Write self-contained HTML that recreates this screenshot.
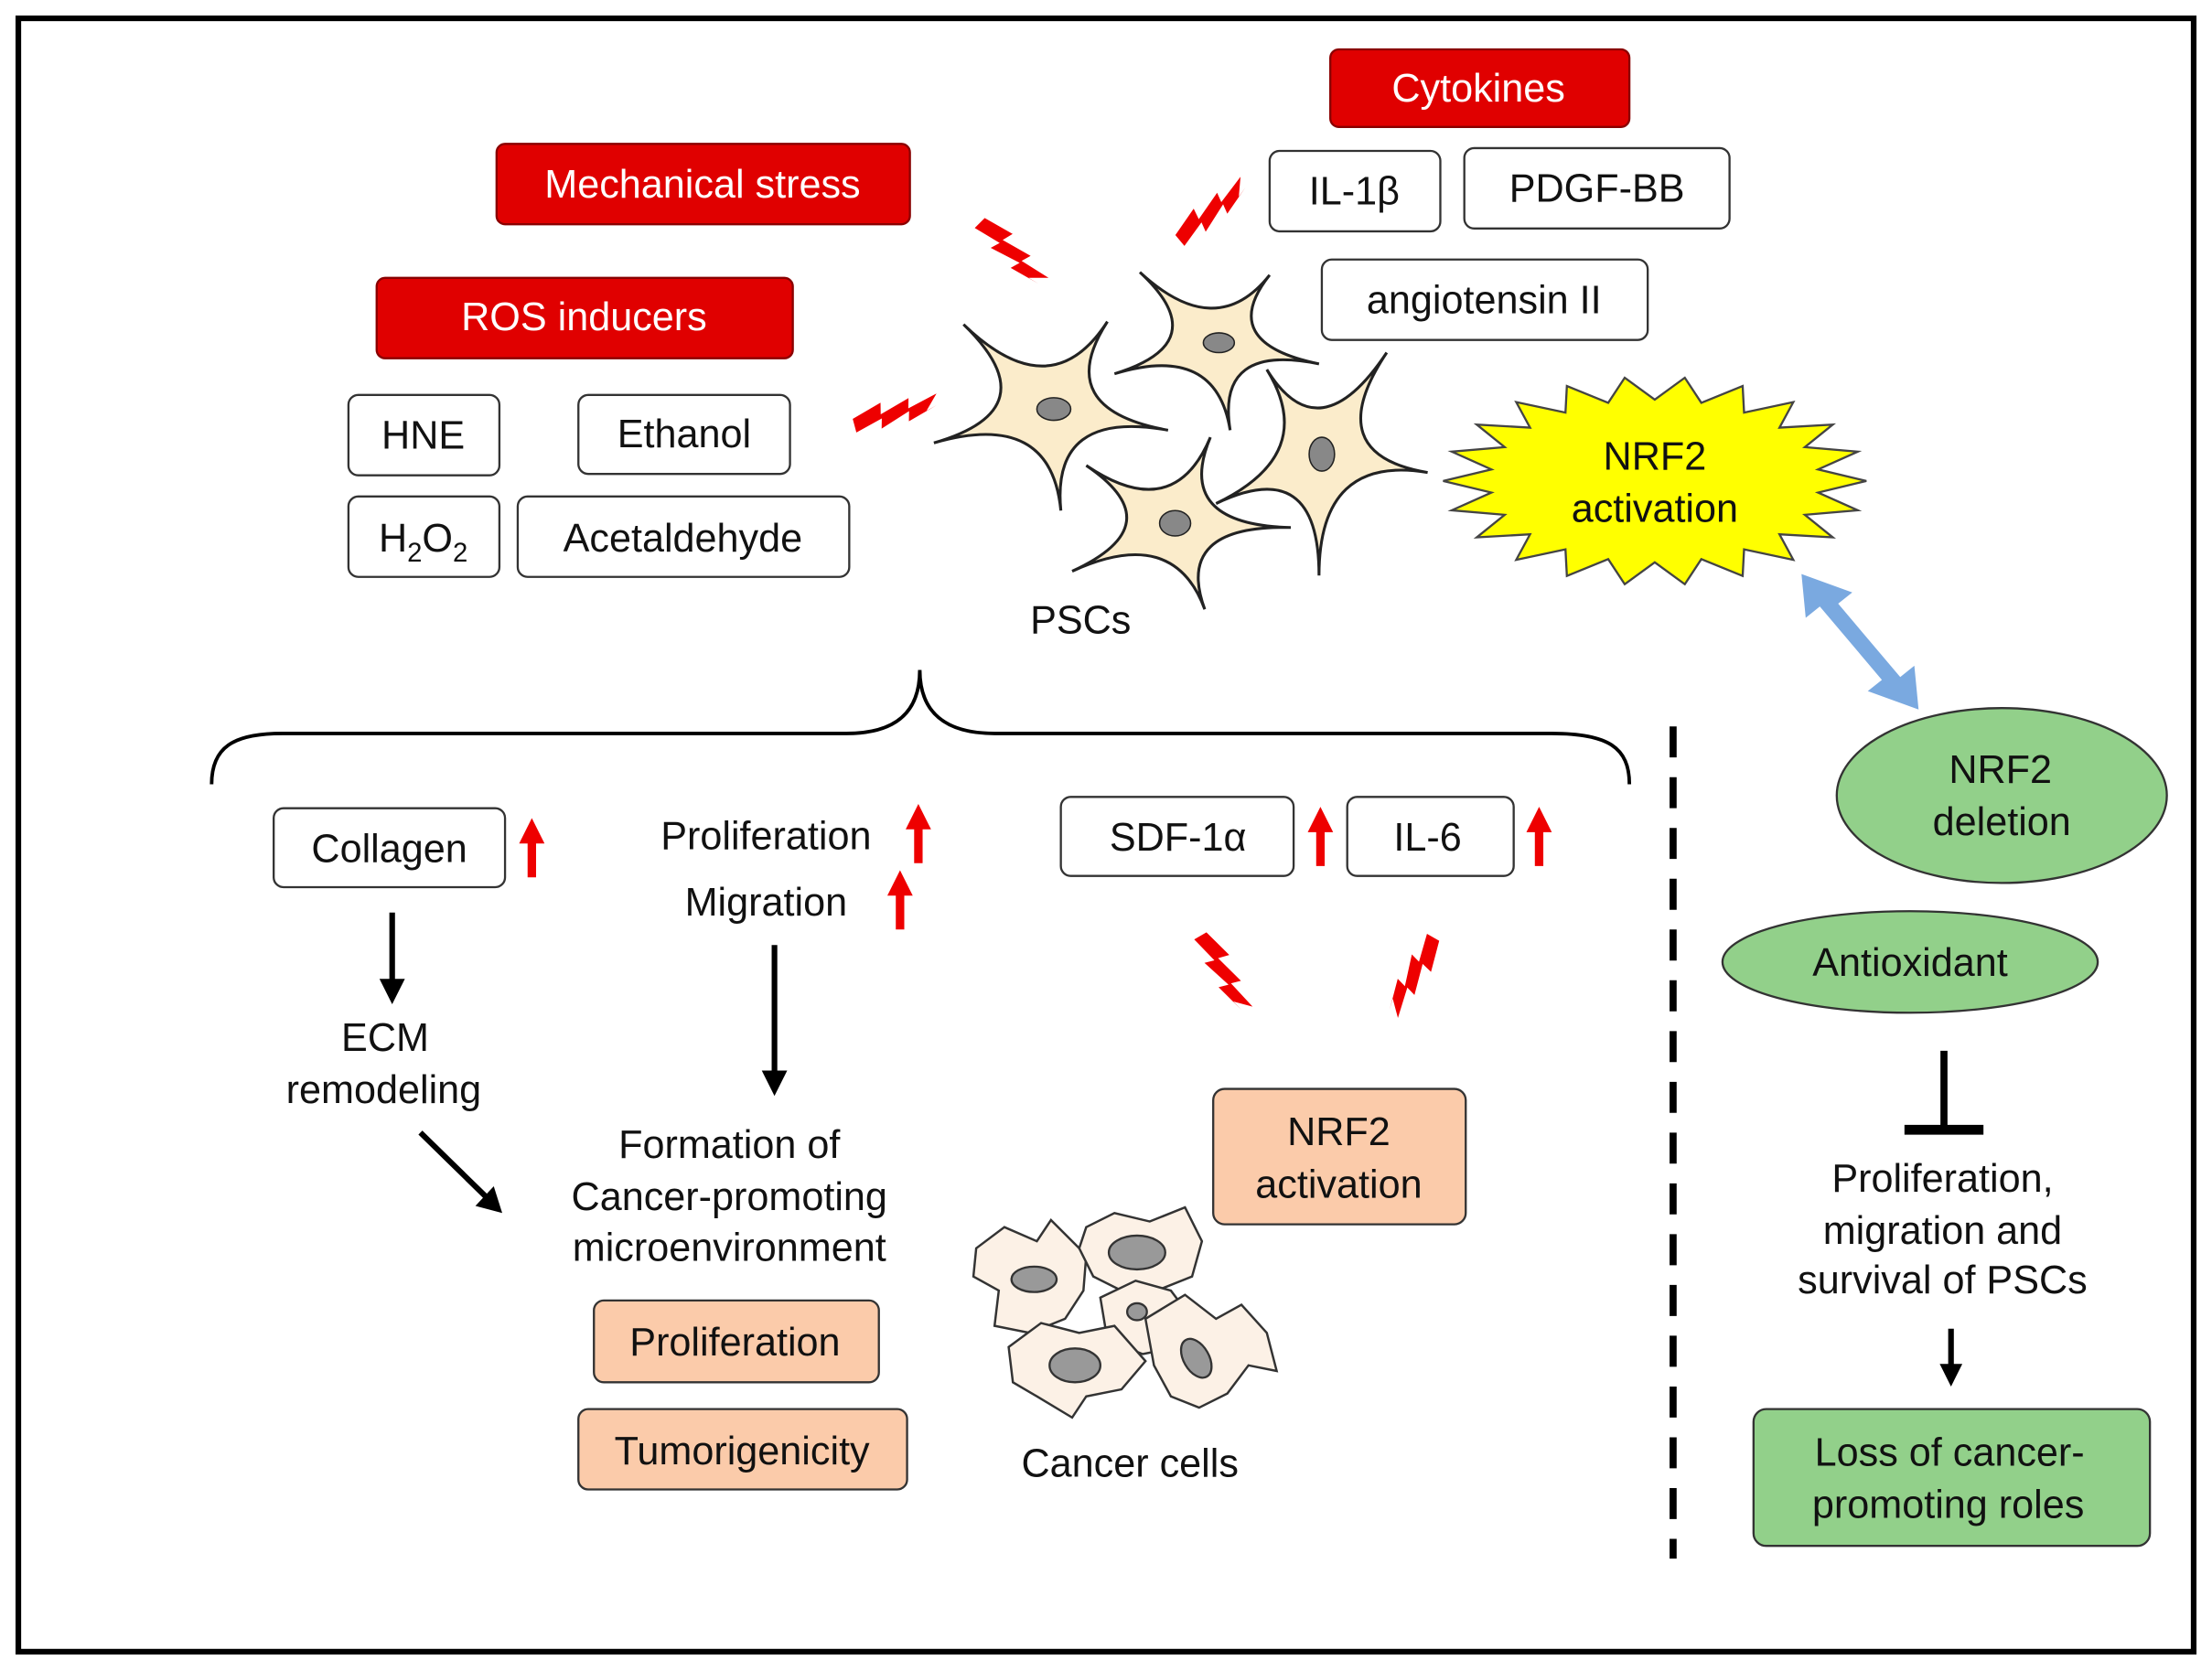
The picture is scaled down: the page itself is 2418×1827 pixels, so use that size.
<!DOCTYPE html>
<html><head><meta charset="utf-8"><style>
html,body{margin:0;padding:0;background:#fff}
svg{display:block}
text{font-family:"Liberation Sans",Arial,sans-serif;font-size:28px;fill:#111}
</style></head><body>
<svg width="2418" height="1827" viewBox="0 0 1568 1184.7" preserveAspectRatio="none" xmlns="http://www.w3.org/2000/svg">
<defs>
<path id="bolt" d="M-30,-6 L-8,-12 L-10,-4 L12,-10 L10,-3 L32,-8 L22,2 L30,0 L8,6 L10,-1 L-12,6 L-10,-1 L-30,4z" fill="#ee0000"/>
</defs>
<rect x="13" y="13" width="1542" height="1158" fill="#fff" stroke="#000" stroke-width="4"/>

<g stroke="#8a0000" stroke-width="1.5" fill="#e00000">
<rect x="943" y="35" width="212" height="55" rx="6"/>
<rect x="352" y="102" width="293" height="57" rx="6"/>
<rect x="267" y="197" width="295" height="57" rx="6"/>
</g>
<g text-anchor="middle">
<text x="1048" y="72" style="fill:#fff">Cytokines</text>
<text x="498" y="140" style="fill:#fff">Mechanical stress</text>
<text x="414" y="234" style="fill:#fff">ROS inducers</text>
</g>
<g fill="#fff" stroke="#333" stroke-width="1.5">
<rect x="900" y="107" width="121" height="57" rx="7"/>
<rect x="1038" y="105" width="188" height="57" rx="7"/>
<rect x="937" y="184" width="231" height="57" rx="7"/>
<rect x="247" y="280" width="107" height="57" rx="7"/>
<rect x="410" y="280" width="150" height="56" rx="7"/>
<rect x="247" y="352" width="107" height="57" rx="7"/>
<rect x="367" y="352" width="235" height="57" rx="7"/>
<rect x="194" y="573" width="164" height="56" rx="7"/>
<rect x="752" y="565" width="165" height="56" rx="7"/>
<rect x="955" y="565" width="118" height="56" rx="7"/>
</g>
<g text-anchor="middle">
<text x="960" y="145">IL-1β</text>
<text x="1132" y="143">PDGF-BB</text>
<text x="1052" y="222">angiotensin II</text>
<text x="300" y="318">HNE</text>
<text x="485" y="317">Ethanol</text>
<text x="300" y="391">H<tspan font-size="19" dy="7">2</tspan><tspan dy="-7">O</tspan><tspan font-size="19" dy="7">2</tspan></text>
<text x="484" y="391">Acetaldehyde</text>
<text x="276" y="611">Collagen</text>
<text x="835" y="603">SDF-1α</text>
<text x="1012" y="603">IL-6</text>
<text x="766" y="449">PSCs</text>
<text x="543" y="602">Proliferation</text>
<text x="543" y="649">Migration</text>
<text x="273" y="745">ECM</text>
<text x="272" y="782">remodeling</text>
<text x="517" y="821">Formation of</text>
<text x="517" y="858">Cancer-promoting</text>
<text x="517" y="894">microenvironment</text>
<text x="801" y="1047">Cancer cells</text>
<text x="1377" y="845">Proliferation,</text>
<text x="1377" y="882">migration and</text>
<text x="1377" y="917">survival of PSCs</text>
</g>
<g fill="#fbcbaa" stroke="#333" stroke-width="1.5">
<rect x="421" y="922" width="202" height="58" rx="7"/>
<rect x="410" y="999" width="233" height="57" rx="7"/>
<rect x="860" y="772" width="179" height="96" rx="8"/>
</g>
<rect x="1243" y="999" width="281" height="97" rx="9" fill="#92d08a" stroke="#333" stroke-width="1.5"/>
<g text-anchor="middle">
<text x="521" y="961">Proliferation</text>
<text x="526" y="1038">Tumorigenicity</text>
<text x="949" y="812">NRF2</text>
<text x="949" y="849">activation</text>
<text x="1382" y="1039">Loss of cancer-</text>
<text x="1381" y="1076">promoting roles</text>
</g>
<ellipse cx="1419" cy="564" rx="117" ry="62" fill="#92d08a" stroke="#333" stroke-width="1.5"/>
<ellipse cx="1354" cy="682" rx="133" ry="36" fill="#92d08a" stroke="#333" stroke-width="1.5"/>
<g text-anchor="middle"><text x="1418" y="555">NRF2</text><text x="1419" y="592">deletion</text><text x="1354" y="692">Antioxidant</text></g>

<polygon fill="#ffff00" stroke="#444" stroke-width="1.5" points="1323,341 1288.8,349.2 1316.9,361.8 1279.4,365 1299.2,381 1261.4,378.8 1271.2,396.9 1236.3,389.5 1235.3,408.3 1206,396.4 1194.3,414.2 1173,398.7 1151.7,414.2 1140,396.4 1110.7,408.3 1109.7,389.5 1074.8,396.9 1084.6,378.8 1046.8,381 1066.6,365 1029.1,361.8 1057.2,349.2 1023,341 1057.2,332.8 1029.1,320.2 1066.6,317 1046.8,301 1084.6,303.2 1074.8,285.1 1109.7,292.5 1110.7,273.7 1140,285.6 1151.7,267.8 1173,283.3 1194.3,267.8 1206,285.6 1235.3,273.7 1236.3,292.5 1271.2,285.1 1261.4,303.2 1299.2,301 1279.4,317 1316.9,320.2 1288.8,332.8"/>
<g text-anchor="middle"><text x="1173" y="333">NRF2</text><text x="1173" y="370">activation</text></g>

<g fill="#fbeccb" stroke="#222" stroke-width="2">
<path d="M683,230 Q745,290 785,228 Q745,290 828,305 Q745,290 752,362 Q745,290 662,314 Q745,290 683,230z"/>
<path d="M808,193 Q862,243 900,195 Q862,243 935,258 Q862,243 872,305 Q862,243 790,265 Q862,243 808,193z"/>
<path d="M983,250 Q935,322 1012,335 Q935,322 935,408 Q935,322 862,357 Q935,322 898,262 Q935,322 983,250z"/>
<path d="M858,310 Q832,372 915,374 Q832,372 854,432 Q832,372 760,405 Q832,372 770,330 Q832,372 858,310z"/>
</g>
<g fill="#888" stroke="#222" stroke-width="1">
<ellipse cx="747" cy="290" rx="12" ry="8"/>
<ellipse cx="864" cy="243" rx="11" ry="7"/>
<ellipse cx="937" cy="322" rx="9" ry="12"/>
<ellipse cx="833" cy="371" rx="11" ry="9"/>
</g>

<g fill="#fcf1e6" stroke="#333" stroke-width="1.6">
<path d="M692,885 L712,870 L735,880 L745,865 L770,890 L768,915 L755,935 L730,945 L705,940 L708,915 L690,905z"/>
<path d="M770,870 L790,860 L815,866 L840,856 L852,880 L845,905 L820,915 L795,915 L775,905 L765,885z"/>
<path d="M780,920 L805,908 L830,915 L845,935 L835,955 L810,960 L785,950z"/>
<path d="M715,955 L738,938 L765,945 L790,940 L812,965 L795,985 L770,990 L760,1005 L735,990 L718,980z"/>
<path d="M812,935 L840,918 L862,935 L880,925 L898,945 L905,972 L885,968 L870,988 L850,998 L830,990 L818,968z"/>
</g>
<g fill="#999" stroke="#333" stroke-width="1.5">
<ellipse cx="733" cy="907" rx="16" ry="9"/>
<ellipse cx="806" cy="888" rx="20" ry="12"/>
<ellipse cx="806" cy="930" rx="7" ry="6"/>
<ellipse cx="762" cy="968" rx="18" ry="12"/>
<ellipse cx="848" cy="963" rx="9" ry="15" transform="rotate(-30 848 963)"/>
</g>

<use href="#bolt" transform="translate(715,180) rotate(45)"/>
<use href="#bolt" transform="translate(860,152) rotate(-40)"/>
<use href="#bolt" transform="translate(635,295) rotate(-15)"/>
<use href="#bolt" transform="translate(865,690) rotate(60)"/>
<use href="#bolt" transform="translate(1000,690) rotate(120)"/>

<path d="M150,556 C150,530 165,520 200,520 L600,520 C635,520 652,505 652,475 C652,505 670,520 705,520 L1100,520 C1140,520 1155,530 1155,556" fill="none" stroke="#000" stroke-width="2.5"/>
<line x1="1186" y1="515" x2="1186" y2="1105" stroke="#000" stroke-width="5" stroke-dasharray="22,14"/>
<polygon fill="#7aa9e0" points="1277,407 1313,420 1303,428 1347,480 1357,472 1360,503 1324,490 1334,482 1290,430 1280,438"/>
<g stroke="#000" stroke-width="4" fill="none">
<line x1="278" y1="647" x2="278" y2="697"/>
<line x1="549" y1="670" x2="549" y2="762"/>
<line x1="298" y1="803" x2="344" y2="848"/>
<line x1="1383" y1="942" x2="1383" y2="970"/>
<line x1="1378" y1="745" x2="1378" y2="800" stroke-width="5"/>
<line x1="1350" y1="801" x2="1406" y2="801" stroke-width="7"/>
</g>
<g fill="#000">
<polygon points="269,694 287,694 278,712"/>
<polygon points="540,759 558,759 549,777"/>
<polygon points="337,855 350,841 356,860"/>
<polygon points="1375,967 1391,967 1383,983"/>
</g>
<g fill="#ee0000">
<path d="M377,580 L386,598 L380,598 L380,622 L374,622 L374,598 L368,598z"/>
<path d="M651,570 L660,588 L654,588 L654,612 L648,612 L648,588 L642,588z"/>
<path d="M638,617 L647,635 L641,635 L641,659 L635,659 L635,635 L629,635z"/>
<path d="M936,572 L945,590 L939,590 L939,614 L933,614 L933,590 L927,590z"/>
<path d="M1091,572 L1100,590 L1094,590 L1094,614 L1088,614 L1088,590 L1082,590z"/>
</g>
</svg>
</body></html>
